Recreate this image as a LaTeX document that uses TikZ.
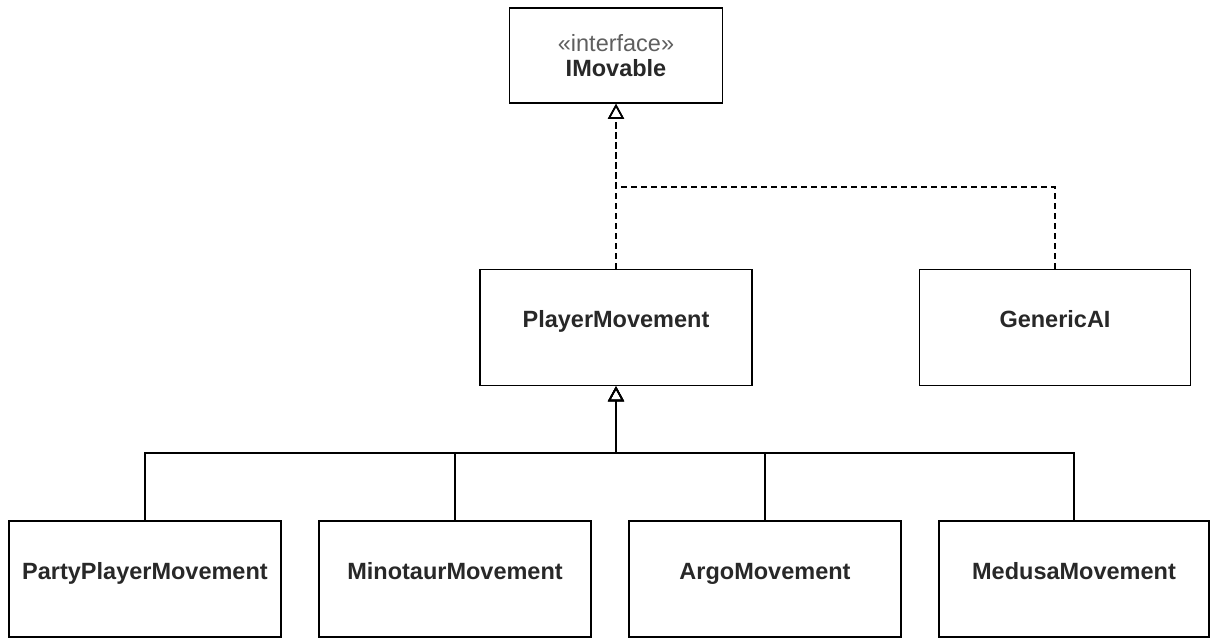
\documentclass[tikz,border=0pt]{standalone}
\usepackage{fontspec}
\setmainfont{Liberation Sans}
\usetikzlibrary{arrows.meta}
\definecolor{txt}{RGB}{40,40,40}
\definecolor{stereo}{RGB}{95,95,95}
\begin{document}
\begin{tikzpicture}[x=1pt,y=-1pt,
  cls/.style={draw=black, line width=1.6pt, fill=white, inner sep=0pt,
    minimum width=272pt, minimum height=116pt, text height=12pt, text depth=12pt,
    font=\fontsize{23.5}{25}\selectfont\bfseries, text=txt},
  realize/.style={line width=1.6pt, dash pattern=on 6pt off 4pt,
    -{Triangle[open, length=15pt, width=16pt, line width=1.6pt]}},
  inherit/.style={line width=1.6pt,
    -{Triangle[open, length=15pt, width=16pt, line width=1.6pt]}}]
\useasboundingbox (0,0) rectangle (1210,638);
% nodes
\node[draw=black, line width=1.6pt, fill=white, inner sep=0pt,
  minimum width=213pt, minimum height=95pt, align=center, text=txt,
  font=\fontsize{23.5}{25}\selectfont] (imov) at (616,55.5)
  {\textcolor{stereo}{«interface»}\\[-0.5pt]\textbf{IMovable}};
\node[cls] (pm) at (616,327.5) {PlayerMovement};
\node[cls, minimum width=271pt] (gen) at (1055,327.5) {GenericAI};
\node[cls] (ppm) at (145,579) {PartyPlayerMovement};
\node[cls, minimum width=272pt] (mino) at (455,579) {MinotaurMovement};
\node[cls, minimum width=272pt] (argo) at (765,579) {ArgoMovement};
\node[cls, minimum width=270pt] (med) at (1074,579) {MedusaMovement};
\coordinate (top) at (616,187);
\coordinate (bus) at (616,453);
% realizations
\draw[realize] (gen.north) |- (top) -- (imov.south -| pm.north);
\draw[realize] (pm.north) -- (imov.south -| pm.north);
% inheritance
\draw[inherit] (ppm.north) |- (bus) -- (pm.south);
\draw[inherit] (mino.north) |- (bus) -- (pm.south);
\draw[inherit] (argo.north) |- (bus) -- (pm.south);
\draw[inherit] (med.north) |- (bus) -- (pm.south);
\end{tikzpicture}
\end{document}
